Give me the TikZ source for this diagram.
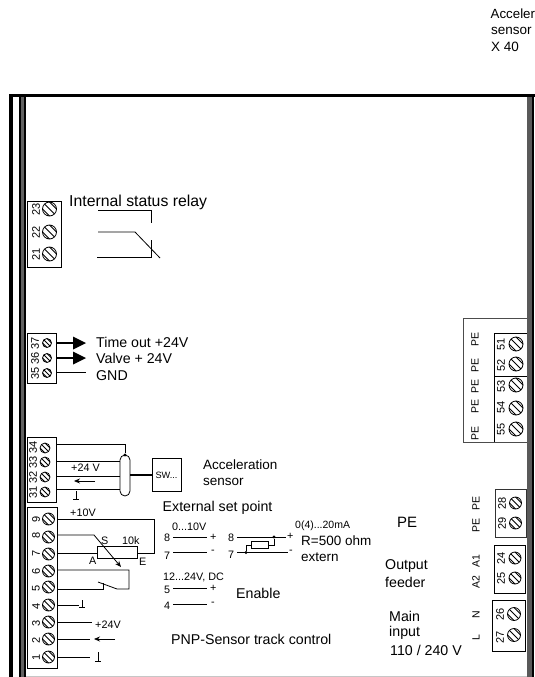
\documentclass[tikz,border=0pt]{standalone}
\usepackage{fontspec}
\setmainfont{Liberation Sans}
\usetikzlibrary{arrows.meta}
\newcommand{\fs}[1]{\fontsize{#1}{#1}\selectfont}
% \scr{x}{y}{radius}{name}
\newcommand{\scr}[4]{\node[screw,minimum size=#3*2pt,
  path picture={\foreach \d in {-.5,0,.5}
    \draw[line width=.75pt,shift={(path picture bounding box.center)}]
      ({(\d-1)*#3},{(-\d-1)*#3}) -- ({(\d+1)*#3},{(-\d+1)*#3});}] (#4) at (#1,#2) {};}
% \gnd{x}{ytop}{ybase}{name}
\newcommand{\gnd}[4]{\coordinate (#4) at (#1,#3);
  \draw[wire] (#4) -- (#1,#2); \draw[wire] ([xshift=-3pt]#4) -- ([xshift=3pt]#4);}
\tikzset{
  x=1pt,y=-1pt,
  screw/.style={circle,draw,line width=.8pt,inner sep=0pt,outer sep=0pt},
  block/.style={draw,line width=.8pt},
  wire/.style={draw,line width=.8pt},
  txt/.style={inner sep=0pt,anchor=west,font=\fs{14.2}},
  small/.style={inner sep=0pt,anchor=west,font=\fs{10.8}},
  tnum/.style={inner sep=0pt,rotate=90,font=\fs{11}},
  plabel/.style={inner sep=0pt,rotate=90,font=\fs{10.5}},
  head/.style={-{Stealth[length=6pt,width=5pt]},line width=.8pt},
  dot/.style={circle,fill,inner sep=0pt,minimum size=3.4pt},
}
\begin{document}
\begin{tikzpicture}
\useasboundingbox (0,0) rectangle (535,677);
% housing
\draw[line width=.8pt,gray!45] (25,676) -- (527,676);
\fill[black] (9,94) rectangle (535,97);
\fill[black] (9,94) rectangle (13,677);
\fill[black] (19,97) rectangle (25.5,677);
\fill[black!62] (20.5,97) rectangle (24,677);
\fill[black!65] (527,97) rectangle (532,677);
\fill[black] (532,97) rectangle (534,677);

% title top right
\node[inner sep=0pt,anchor=west,font=\fs{13.3}] (acctop) at (490.5,14) {Acceler};
\node[inner sep=0pt,anchor=west,font=\fs{13.5}] (senstop) at (491,31) {sensor};
\node[inner sep=0pt,anchor=west,font=\fs{13.5}] (xtop) at (491,47) {X 40};

% --- block 21-23
\draw[block] (27,201) rectangle (61,267);
\scr{49.5}{209}{7}{s23}\scr{49.5}{232}{7}{s22}\scr{49.5}{254}{7}{s21}
\node[tnum] (n23) at (36,209) {23};
\node[tnum] (n22) at (36,232) {22};
\node[tnum] (n21) at (36,254) {21};
\node[inner sep=0pt,anchor=west,font=\fs{15.8}] (rel) at (69,202) {Internal status relay};
\coordinate (r1) at (98,210); \coordinate (r2) at (98,232); \coordinate (r3) at (97,257);
\draw[wire] (r1) -- (151,210) -- (151,222.5);
\draw[wire] (r2) -- (135,232) -- (160,258);
\draw[wire] (r3) -- (151,257) -- (151,240);

% --- block 35-37
\draw[block] (27,333) rectangle (56,383);
\scr{47}{343}{4.5}{s37}\scr{47}{358}{4.5}{s36}\scr{47}{373}{4.5}{s35}
\node[tnum] (n37) at (35,343) {37};
\node[tnum] (n36) at (35,358) {36};
\node[tnum] (n35) at (35,373) {35};
\coordinate (e37) at (86,343); \coordinate (e36) at (86,358); \coordinate (e35) at (86,372);
\draw[line width=1.2pt] (56,343) -- (74,343);
\draw[line width=1.2pt] (56,358) -- (74,358);
\fill (73,336.5) -- (e37) -- (73,349.5) -- cycle;
\fill (73,351.5) -- (e36) -- (73,364.5) -- cycle;
\draw[wire] (56,372) -- (e35);
\node[txt] (l37) at (96,342) {Time out +24V};
\node[txt] (l36) at (96,358.5) {Valve + 24V};
\node[txt] (l35) at (96,376) {GND};

% --- block 31-34
\draw[block] (27,437) rectangle (56,502);
\scr{45}{448}{5}{s34}\scr{45}{462}{5}{s33}\scr{45}{477}{5}{s32}\scr{45}{492}{5}{s31}
\node[tnum] (n34) at (33,447) {34};
\node[tnum] (n33) at (33,462) {33};
\node[tnum] (n32) at (33,477) {32};
\node[tnum] (n31) at (33,492) {31};
\node[draw,line width=.8pt,rounded corners=5pt,minimum width=10pt,minimum height=41pt,inner sep=0pt] (cable) at (125,475.5) {};
\node[draw,line width=.8pt,minimum width=29pt,minimum height=33pt,inner sep=0pt,font=\fs{9.2}] (sw) at (166.5,475) {SW...};
\draw[line width=2pt] (cable.east |- sw) -- (sw.west);
\node[dot] (cd) at (125,455) {};
\draw[wire] (56,444) -- (125,444) -- (cd);
\draw[wire] (56,461) -- (120,461);
\draw[wire] (56,476) -- (120,476);
\draw[wire] (56,489.5) -- (120,489.5);
\node[small] (p24a) at (71,468) {+24 V};
\coordinate (a1) at (95,481); \coordinate (a2) at (74,481);
\draw[head] (a1) -- (a2);
\gnd{76}{491}{499}{g31}
\node[inner sep=0pt,anchor=west,font=\fs{13.5}] (as1) at (203,465) {Acceleration};
\node[inner sep=0pt,anchor=west,font=\fs{13.5}] (as2) at (203,482) {sensor};

% --- block 1-9
\draw[block] (27,507) rectangle (57,668);
\scr{48.5}{519}{6}{s9}\scr{48.5}{537}{6}{s8}\scr{48.5}{554}{6}{s7}\scr{48.5}{571}{6}{s6}
\scr{48.5}{587}{6}{s5}\scr{48.5}{605}{6}{s4}\scr{48.5}{622}{6}{s3}\scr{48.5}{639}{6}{s2}\scr{48.5}{657}{6}{s1}
\foreach \n/\y in {9/519,8/535,7/553,6/571,5/588,4/606,3/623,2/640,1/657}
  \node[tnum] (n\n) at (36,\y) {\n};
\node[draw,line width=.8pt,minimum width=40pt,minimum height=12pt,inner sep=0pt] (pot) at (117,552.5) {};
\draw[wire] (57,519) -- (154,519) -- (154,553) -- (pot.east |- 0,553);
\draw[wire] (57,553) -- (pot.west |- 0,553);
\coordinate (w) at (121,567);
\draw[head] (57,535) -- (94,535) -- (w);
\draw[wire] (57,570) -- (129,570) -- (129,589) -- (117,589) -- (98,582);
\draw[wire] (57,589) -- (103,589) -- (103,583);
\draw[wire] (58,605) -- (79,605);
\gnd{82}{600}{607}{g4}
\draw[wire] (57,622) -- (92,622);
\node[small] (p24b) at (95,625) {+24V};
\draw[wire] (57,639) -- (90,639);
\coordinate (a3) at (115,639); \coordinate (a4) at (94,639);
\draw[head] (a3) -- (a4);
\draw[wire] (57,657) -- (90,657);
\gnd{98}{652}{661}{g1}
\node[small] (p10) at (70,513) {+10V};
\node[small] (lS) at (101,541) {S};
\node[small] (l10k) at (122,541) {10k};
\node[small] (lA) at (89,560.5) {A};
\node[small] (lE) at (139,561.5) {E};

% --- centre
\node[txt] (ext) at (162.5,508) {External set point};
\node[small] (v10) at (172,527) {0...10V};
\node[small] (c8a) at (164,537.5) {8};
\node[small] (c7a) at (164,555.5) {7};
\coordinate (w1) at (173,537); \coordinate (w2) at (207,537);
\coordinate (w3) at (173,552); \coordinate (w4) at (207,552);
\draw[wire] (w1) -- (w2); \draw[wire] (w3) -- (w4);
\node[small] (c+a) at (210,537.5) {+};
\node[small] (c-a) at (211,552) {-};
\node[small] (c8b) at (228,537.5) {8};
\node[small] (c7b) at (228,554.5) {7};
\coordinate (w5) at (237,537); \coordinate (w6) at (286,537);
\coordinate (w7) at (237,552.5); \coordinate (w8) at (288,552.5);
\draw[wire] (w5) -- (w6); \draw[wire] (w7) -- (w8);
\node[dot] (d1) at (274,537) {};
\node[dot] (d2) at (246,552.5) {};
\node[draw,line width=.8pt,minimum width=17pt,minimum height=7pt,inner sep=0pt] (rr) at (259.5,545) {};
\draw[wire] (d2) -- (d2 |- rr) -- (rr.west);
\draw[wire] (rr.east) -- (rr.east -| d1) -- (d1);
\node[small] (c+b) at (287,536) {+};
\node[small] (c-b) at (289,551.5) {-};
\node[inner sep=0pt,anchor=west,font=\fs{10.5}] (ma) at (295,526) {0(4)...20mA};
\node[txt,font=\fs{13.5}] (ohm) at (301,541) {R=500 ohm};
\node[txt,font=\fs{13.5}] (ex) at (301,557) {extern};
\node[small] (dc) at (163,577) {12...24V, DC};
\node[small] (c5) at (164,589.5) {5};
\node[small] (c4) at (164,605.5) {4};
\coordinate (w9) at (173,588); \coordinate (w10) at (207,588);
\coordinate (w11) at (173,604); \coordinate (w12) at (207,604);
\draw[wire] (w9) -- (w10); \draw[wire] (w11) -- (w12);
\node[small] (c+c) at (210,588.5) {+};
\node[small] (c-c) at (211,603.5) {-};
\node[txt] (en) at (236,593) {Enable};
\node[txt] (pnp) at (171,639) {PNP-Sensor track control};
\node[txt,font=\fs{15}] (pe) at (397,522) {PE};
\node[txt] (of1) at (385,566) {Output};
\node[txt] (of2) at (385,582) {feeder};
\node[txt] (mi1) at (389,616) {Main};
\node[txt] (mi2) at (389,633) {input};
\node[txt] (mi3) at (390,650) {110 / 240 V};

% --- right top block
\draw[line width=.8pt,black!70] (527,318) -- (463,318) -- (463,442) -- (527,442);
\draw[block] (494,333) -- (527,333);
\draw[block] (494,333) -- (494,442);
\draw[block] (494,376) -- (527,376);
\scr{516}{344}{7}{s51}\scr{516}{364}{7}{s52}\scr{516}{385}{7}{s53}\scr{516}{408}{7}{s54}\scr{516}{429}{7}{s55}
\foreach \n/\y in {51/344,52/365,53/386,54/407,55/429}
  \node[tnum] (n\n) at (501,\y) {\n};
\foreach \i/\y in {a/339,b/365,c/386,d/406,e/433}
  \node[plabel] (pe\i) at (475,\y) {PE};

% --- 28/29
\draw[block,black!80] (495,489) rectangle (526,537);
\scr{515.5}{503}{6}{s28}\scr{515.5}{523}{6}{s29}
\node[tnum] (n28) at (502,503) {28};
\node[tnum] (n29) at (502,523) {29};
\node[plabel] (pef) at (476,503) {PE};
\node[plabel] (peg) at (476,525) {PE};

% --- 24/25
\draw[block] (494,545) rectangle (525,593);
\scr{515}{558}{6}{s24}\scr{515}{578}{6}{s25}
\node[tnum] (n24) at (501,558) {24};
\node[tnum] (n25) at (501,578) {25};
\node[plabel] (la1) at (476,561) {A1};
\node[plabel] (la2) at (476,582) {A2};

% --- 26/27
\draw[block] (492,600) rectangle (525,651);
\scr{514}{614}{6.5}{s26}\scr{514}{635}{6.5}{s27}
\node[tnum] (n26) at (500,614) {26};
\node[tnum] (n27) at (500,637) {27};
\node[plabel] (lN) at (476,615) {N};
\node[plabel] (lL) at (476,638) {L};
\end{tikzpicture}
\end{document}
